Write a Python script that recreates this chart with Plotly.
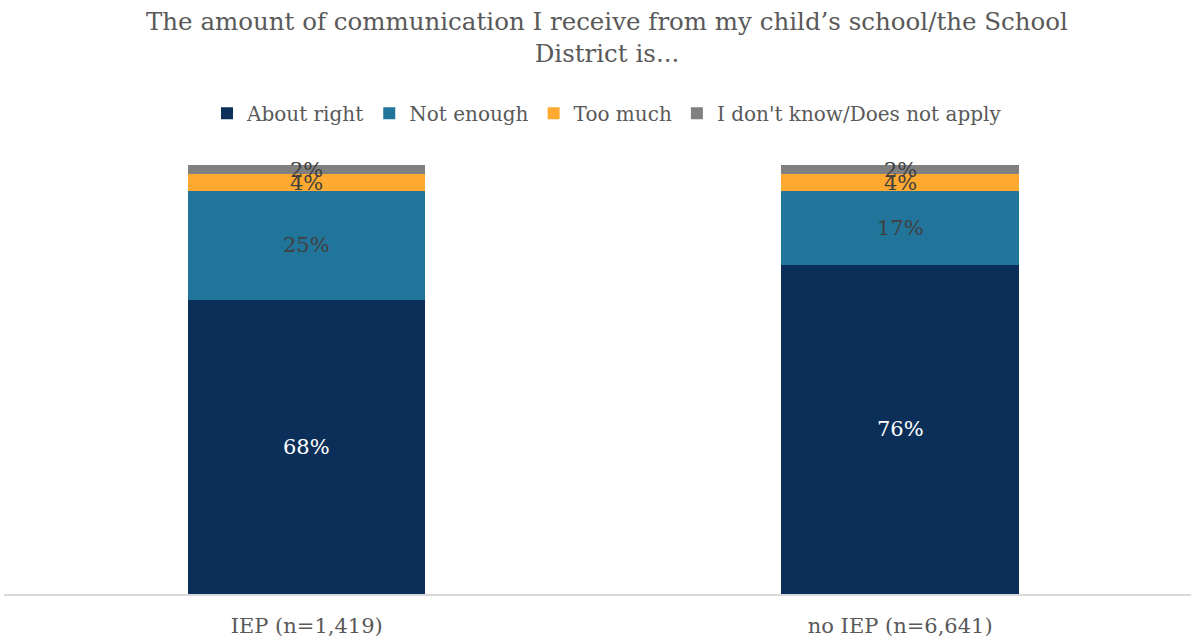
import plotly.graph_objects as go

categories = ["IEP (n=1,419)", "no IEP (n=6,641)"]
series_names = ["About right", "Not enough", "Too much", "I don't know/Does not apply"]
about_right = [68, 76]
not_enough = [25, 17]
too_much = [4, 4]
dont_know = [2, 2]
series_values = [about_right, not_enough, too_much, dont_know]
colors = ["#0C2F59", "#21759B", "#FFA930", "#808080"]
label_colors = ["#FFFFFF", "#404040", "#404040", "#404040"]

FONT = "DejaVu Serif"
TEXT_GRAY = "#595959"
TITLE = "The amount of communication I receive from my child’s school/the School<br>District is..."

fig = go.Figure()
x_pos = list(range(len(categories)))
for name, vals, col in zip(series_names, series_values, colors):
    fig.add_trace(go.Bar(
        x=x_pos, y=vals, name=name, legendgroup=name,
        marker=dict(color=col, line=dict(width=0)),
        width=0.4, hoverinfo="skip",
    ))

# value labels centred in each stacked segment
annotations = []
for i in range(len(categories)):
    base = 0
    for vals, lc in zip(series_values, label_colors):
        v = vals[i]
        annotations.append(dict(
            x=i, y=base + v / 2, xref="x", yref="y", text=f"{v}%",
            showarrow=False, font=dict(family=FONT, size=21, color=lc),
        ))
        base += v

# chart title as a paper-anchored annotation above the legend
annotations.append(dict(
    x=0.508, y=1.36, xref="paper", yref="paper", xanchor="center", yanchor="top",
    text=TITLE, showarrow=False, align="center",
    font=dict(family=FONT, size=24.5, color=TEXT_GRAY),
))

fig.update_layout(
    barmode="stack",
    width=1191, height=639,
    margin=dict(l=4, r=0, t=161, b=45),
    paper_bgcolor="white", plot_bgcolor="white",
    legend=dict(
        orientation="h", x=0.508, xanchor="center", y=1.11, yanchor="middle",
        font=dict(family=FONT, size=20, color=TEXT_GRAY), traceorder="grouped",
        tracegroupgap=22,
    ),
    font=dict(family=FONT, color=TEXT_GRAY),
    annotations=annotations,
    showlegend=True,
)
fig.update_xaxes(
    range=[-0.51, 1.49], tickvals=x_pos, ticktext=categories,
    showline=True, linecolor="#D9D9D9", linewidth=2, showgrid=False, ticks="",
    tickfont=dict(family=FONT, size=21, color=TEXT_GRAY), zeroline=False,
    ticklabelstandoff=12,
)
fig.update_yaxes(range=[0, 100], visible=False, showgrid=False)

fig.write_html("out.html")
